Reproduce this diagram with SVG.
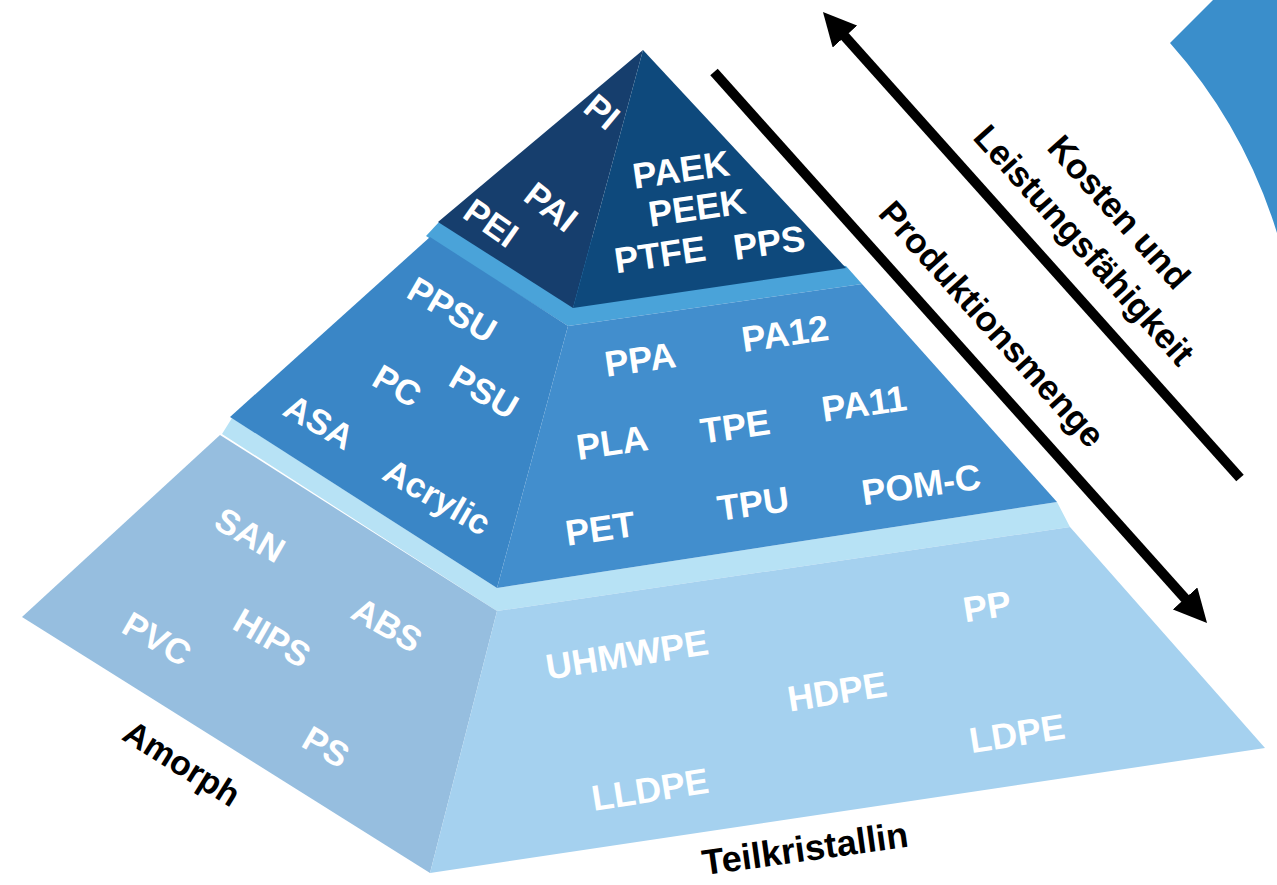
<svg xmlns="http://www.w3.org/2000/svg" width="1277" height="885" viewBox="0 0 1277 885">
<style>
.lbl{font-family:"Liberation Sans",Arial,sans-serif;font-weight:bold;font-size:36px;fill:#ffffff;text-anchor:middle}
.sm{font-size:35px}
.blk{fill:#000000}
.arrow{stroke:#000000;stroke-width:10;fill:none}
</style>
<defs>
<marker id="head" viewBox="0 0 33 33" refX="13" refY="16.5" markerWidth="33" markerHeight="33" markerUnits="userSpaceOnUse" orient="auto">
<path d="M0,0 L33,16.5 L0,33 Z" fill="#000000"/>
</marker>
</defs>
<rect width="1277" height="885" fill="#ffffff"/>
<g id="arc">
<path d="M1170,43 L1213,0 L1277,0 L1277,233 Q1244,126 1170,43 Z" fill="#3a8ecb"/>
</g>
<g id="tier-bottom">
<polygon points="222,434 232,418 497,588 1057,502 1070,527 497,611" fill="#b7e2f5"/>
<polygon points="220,435 497,611 430,873 22,617" fill="#96bedf"/>
<polygon points="497,611 1070,527 1265,748 430,873" fill="#a5d1ef"/>
<text class="lbl sm" transform="translate(250,535) rotate(30)" y="12">SAN</text>
<text class="lbl sm" transform="translate(157,639) rotate(30)" y="12">PVC</text>
<text class="lbl sm" transform="translate(272,638) rotate(30)" y="12">HIPS</text>
<text class="lbl sm" transform="translate(387,625) rotate(30)" y="12">ABS</text>
<text class="lbl sm" transform="translate(326,747) rotate(30)" y="12">PS</text>
<text class="lbl" transform="translate(627,654) rotate(-9)" y="13">UHMWPE</text>
<text class="lbl" transform="translate(987,606) rotate(-9)" y="13">PP</text>
<text class="lbl" transform="translate(837,691) rotate(-9)" y="13">HDPE</text>
<text class="lbl" transform="translate(1017,733) rotate(-9)" y="13">LDPE</text>
<text class="lbl" transform="translate(650,789) rotate(-9)" y="13">LLDPE</text>
</g>
<g id="tier-middle">
<polygon points="426,236 440,221 846,266 862,284 568,326" fill="#4aa3d9"/>
<polygon points="430,237 568,326 497,588 230,417" fill="#3a86c6"/>
<polygon points="568,326 862,284 1057,502 497,588" fill="#428ecd"/>
<text class="lbl sm" transform="translate(452,310) rotate(30)" y="12">PPSU</text>
<text class="lbl sm" transform="translate(397,386) rotate(30)" y="12">PC</text>
<text class="lbl sm" transform="translate(484,392) rotate(30)" y="12">PSU</text>
<text class="lbl sm" transform="translate(319,422) rotate(30)" y="12">ASA</text>
<text class="lbl sm" transform="translate(437,497) rotate(30)" y="12">Acrylic</text>
<text class="lbl" transform="translate(640,359) rotate(-8)" y="13">PPA</text>
<text class="lbl" transform="translate(785,333) rotate(-8)" y="13">PA12</text>
<text class="lbl" transform="translate(612,442) rotate(-8)" y="13">PLA</text>
<text class="lbl" transform="translate(735,426) rotate(-8)" y="13">TPE</text>
<text class="lbl" transform="translate(864,403) rotate(-8)" y="13">PA11</text>
<text class="lbl" transform="translate(600,528) rotate(-8)" y="13">PET</text>
<text class="lbl" transform="translate(753,503) rotate(-8)" y="13">TPU</text>
<text class="lbl" transform="translate(921,484) rotate(-8)" y="13">POM-C</text>
</g>
<g id="tier-top">
<polygon points="643,50 438,222 573,308" fill="#163e6d"/>
<polygon points="643,50 573,308 846,268" fill="#0e497c"/>
<text class="lbl sm" transform="translate(602,112) rotate(40)" y="12">PI</text>
<text class="lbl sm" transform="translate(551,207) rotate(38)" y="12">PAI</text>
<text class="lbl sm" transform="translate(491,223) rotate(35)" y="12">PEI</text>
<text class="lbl" transform="translate(681,169) rotate(-8)" y="13">PAEK</text>
<text class="lbl" transform="translate(697,207) rotate(-8)" y="13">PEEK</text>
<text class="lbl" transform="translate(660,254) rotate(-8)" y="13">PTFE</text>
<text class="lbl" transform="translate(769,242) rotate(-8)" y="13">PPS</text>
</g>
<g id="axis-labels">
<text class="lbl blk" style="font-size:34px" transform="translate(182,763) rotate(32)" y="12">Amorph</text>
<text class="lbl blk" transform="translate(805,848) rotate(-8)" y="13">Teilkristallin</text>
<text class="lbl blk sm" transform="translate(1119,212) rotate(48)" y="12">Kosten und</text>
<text class="lbl blk sm" transform="translate(1084,245) rotate(48)" y="12">Leistungsfähigkeit</text>
<text class="lbl blk sm" transform="translate(992,324) rotate(48)" y="12">Produktionsmenge</text>
</g>
<g id="connectors">
<line class="arrow" x1="1240" y1="478" x2="836.3" y2="26.9" marker-end="url(#head)"/>
<line class="arrow" x1="714" y1="72" x2="1193.7" y2="608.1" marker-end="url(#head)"/>
</g>
</svg>
